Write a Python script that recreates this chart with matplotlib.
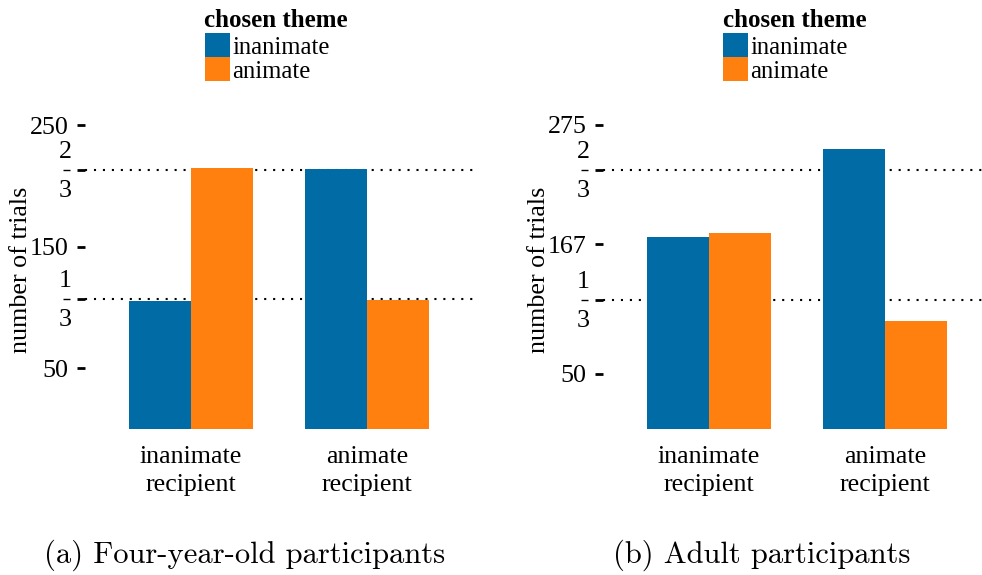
import matplotlib
matplotlib.use("Agg")
import matplotlib.pyplot as plt
from matplotlib.patches import Rectangle
import numpy as np

# ---- data -------------------------------------------------------------
recipients = ["inanimate\nrecipient", "animate\nrecipient"]
themes = ["inanimate", "animate"]
theme_colors = ["#006BA4", "#FF800E"]

child_inanimate = [105, 214]   # chosen theme: inanimate
child_animate = [215, 106]     # chosen theme: animate
child_total = 320
child_ticks = [50, 150, 250]

adult_inanimate = [174, 253]
adult_animate = [177, 98]
adult_total = 351
adult_ticks = [50, 167, 275]

fractions = [(1, 3), (2, 3)]
captions = ["(a) Four-year-old participants", "(b) Adult participants"]

# ---- layout helpers (pixel -> figure fraction) ------------------------
W, H = 982, 575
fig = plt.figure(figsize=(W / 100, H / 100), dpi=100)


def fx(px):
    return px / W


def fy(py):
    return 1 - py / H


SERIF = "Liberation Serif"
TICK_FS = 18.7
LEG_FS = 17.7

panel_top, panel_bottom = 110, 429
panels = [
    dict(left=85.4, scale=1.2155, inan=child_inanimate, anim=child_animate,
         total=child_total, ticks=child_ticks, ylab_x=21,
         leg_x=204.5, caption=captions[0], cap_x=244.5),
    dict(left=603.4, scale=1.1055, inan=adult_inanimate, anim=adult_animate,
         total=adult_total, ticks=adult_ticks, ylab_x=539,
         leg_x=723, caption=captions[1], cap_x=762),
]

unit_px = 176.0
xlo, xhi = 0.4, 2.6
bar_w = 0.35
x = np.arange(1, len(recipients) + 1)

for p in panels:
    width_px = (xhi - xlo) * unit_px
    ax = fig.add_axes([fx(p["left"]), fy(panel_bottom),
                       width_px / W, (panel_bottom - panel_top) / H])
    ymax = (panel_bottom - panel_top) / p["scale"]
    ax.set_xlim(xlo, xhi)
    ax.set_ylim(0, ymax)

    ax.bar(x - bar_w / 2, p["inan"], bar_w, color=theme_colors[0], zorder=2)
    ax.bar(x + bar_w / 2, p["anim"], bar_w, color=theme_colors[1], zorder=2)

    frac_vals = [p["total"] * n / d for n, d in fractions]
    for v in frac_vals:
        ax.axhline(v, color="black", lw=1.5, ls=(0, (1, 3.3)), zorder=1)

    yt = list(p["ticks"]) + frac_vals
    yl = [str(t) for t in p["ticks"]] + [""] * len(frac_vals)
    ax.set_yticks(yt, yl)
    ax.tick_params(axis="y", length=6, width=2, pad=6, labelsize=TICK_FS)
    for lab in ax.get_yticklabels():
        lab.set_fontfamily(SERIF)

    # stacked fraction labels beside the fraction ticks
    ytrans = ax.get_yaxis_transform()
    for (n, d), v in zip(fractions, frac_vals):
        ax.annotate(str(n), xy=(0, v), xycoords=ytrans,
                    xytext=(-20.5, 12), textcoords="offset pixels",
                    ha="center", va="baseline", fontsize=TICK_FS,
                    family=SERIF, annotation_clip=False)
        ax.annotate(str(d), xy=(0, v), xycoords=ytrans,
                    xytext=(-20.5, -27), textcoords="offset pixels",
                    ha="center", va="baseline", fontsize=TICK_FS,
                    family=SERIF, annotation_clip=False)
        ax.plot([-22.5 / width_px, -15.0 / width_px], [v, v],
                transform=ytrans, color="black", lw=1.0, clip_on=False,
                solid_capstyle="butt")

    ax.set_xticks(x, recipients)
    ax.tick_params(axis="x", length=0, pad=12.5, labelsize=TICK_FS)
    for lab in ax.get_xticklabels():
        lab.set_fontfamily(SERIF)
        lab.set_linespacing(1.35)

    for s in ax.spines.values():
        s.set_visible(False)

    fig.text(fx(p["ylab_x"]), fy((panel_top + panel_bottom) / 2),
             "number of trials", rotation=90, ha="center", va="center",
             fontsize=TICK_FS, family=SERIF)

    # legend
    lx = p["leg_x"]
    fig.text(fx(lx), fy(27), "chosen theme", fontsize=18, family=SERIF,
             fontweight="bold", ha="left", va="baseline")
    for i, (name, col) in enumerate(zip(themes, theme_colors)):
        top = 33 + 24 * i
        fig.add_artist(Rectangle((fx(lx), fy(top + 24)), 25 / W, 24 / H,
                                 transform=fig.transFigure, color=col,
                                 lw=0))
        fig.text(fx(lx + 27.5), fy(top + 21), name, fontsize=LEG_FS,
                 family=SERIF, ha="left", va="baseline")

    fig.text(fx(p["cap_x"]), fy(555), p["caption"], fontsize=22,
             family="cmr10", ha="center", va="center")

fig.savefig("out.png", dpi=100)
